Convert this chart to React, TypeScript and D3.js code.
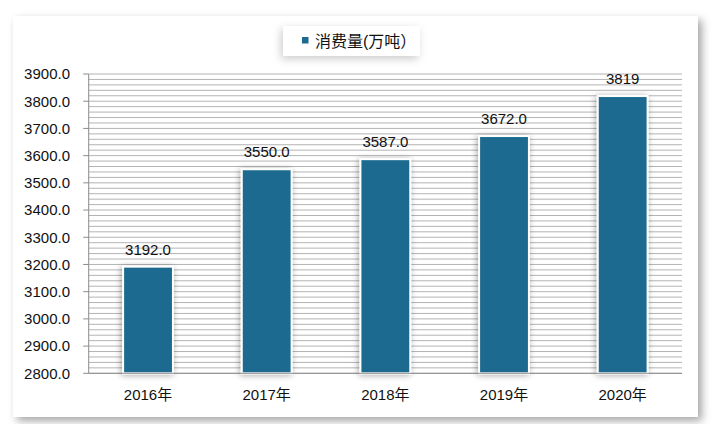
import React from 'react';
import * as d3 from 'd3';

const years = ['2016年', '2017年', '2018年', '2019年', '2020年'];
const consumption = [3192.0, 3550.0, 3587.0, 3672.0, 3819];
const valueLabels = ['3192.0', '3550.0', '3587.0', '3672.0', '3819'];
const yTicks = [2800, 2900, 3000, 3100, 3200, 3300, 3400, 3500, 3600, 3700, 3800, 3900];
const seriesName = '消费量(万吨）';

const W = 713;
const H = 424;
const FONT = '"Liberation Sans", "Noto Sans CJK SC", sans-serif';
const BAR = '#1c6b8f';

const App: React.FC = () => {
  const plot = { left: 88.7, right: 682, top: 74, bottom: 373.3 };

  const x = d3.scaleBand<string>()
    .domain(years)
    .range([plot.left, plot.right])
    .paddingInner(0.58)
    .paddingOuter(0.29);

  const y = d3.scaleLinear().domain([2800, 3900]).range([plot.bottom, plot.top]);

  // minor gridlines every 20
  const grid = d3.range(2800, 3900 + 1, 20);

  return (
    <svg width={W} height={H} style={{ position: 'absolute', left: 0, top: 0 }}>
      <defs>
        <filter id="frameShadow" x="-5%" y="-5%" width="112%" height="115%">
          <feDropShadow dx="4" dy="4" stdDeviation="4" floodColor="#000" floodOpacity="0.35" />
        </filter>
        <filter id="barShadow" x="-30%" y="-10%" width="160%" height="130%">
          <feDropShadow dx="-1" dy="1" stdDeviation="3" floodColor="#000" floodOpacity="0.35" />
        </filter>
        <filter id="legendShadow" x="-20%" y="-40%" width="140%" height="200%">
          <feDropShadow dx="-2" dy="3" stdDeviation="4" floodColor="#000" floodOpacity="0.2" />
        </filter>
      </defs>

      <rect x={0} y={0} width={W} height={H} fill="#fff" />
      <rect x={13} y={16} width={685} height={401} fill="#fff" filter="url(#frameShadow)" />

      {/* legend */}
      <rect x={283} y={26} width={137} height={30} fill="#fff" filter="url(#legendShadow)" />
      <rect x={302} y={37} width={6.5} height={6.5} fill={BAR} />
      <text x={315} y={46.5} fontFamily={FONT} fontSize={16} fill="#111">{seriesName}</text>

      {/* gridlines */}
      {grid.map(v => (
        <line key={v} x1={plot.left} x2={plot.right} y1={y(v)} y2={y(v)} stroke="#b4b4b4" strokeWidth={1} />
      ))}

      {/* y axis */}
      <line x1={plot.left} x2={plot.left} y1={plot.top} y2={plot.bottom} stroke="#8c8c8c" strokeWidth={1} />
      {yTicks.map(v => (
        <g key={v}>
          <line x1={plot.left - 5.5} x2={plot.left} y1={y(v)} y2={y(v)} stroke="#8c8c8c" />
          <text x={70} y={y(v) + 5.3} textAnchor="end" fontFamily={FONT} fontSize={15} fill="#111">
            {v.toFixed(1)}
          </text>
        </g>
      ))}

      {/* bars */}
      {consumption.map((v, i) => (
        <g key={years[i]}>
          <rect
            x={x(years[i])!}
            y={y(v)}
            width={x.bandwidth()}
            height={plot.bottom - y(v)}
            fill={BAR}
            stroke="#fff"
            strokeWidth={2}
            filter="url(#barShadow)"
          />
          <text
            x={x(years[i])! + x.bandwidth() / 2}
            y={y(v) - 12}
            textAnchor="middle"
            fontFamily={FONT}
            fontSize={15}
            fill="#111"
          >
            {valueLabels[i]}
          </text>
        </g>
      ))}

      {/* x axis */}
      <line x1={plot.left} x2={plot.right} y1={plot.bottom} y2={plot.bottom} stroke="#8c8c8c" strokeWidth={1} />
      {years.map(c => (
        <text
          key={c}
          x={x(c)! + x.bandwidth() / 2}
          y={400}
          textAnchor="middle"
          fontFamily={FONT}
          fontSize={15}
          fill="#111"
        >
          {c}
        </text>
      ))}
    </svg>
  );
};

export default App;
